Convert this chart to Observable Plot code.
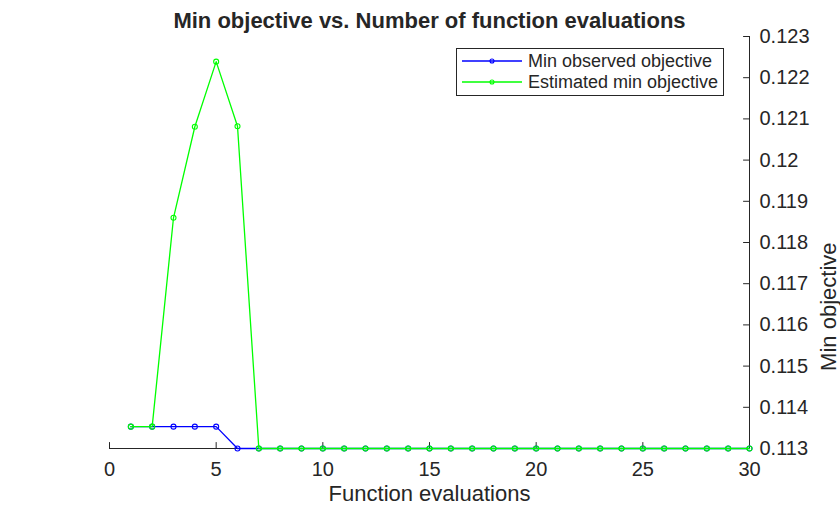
<!DOCTYPE html>
<html>
<head>
<meta charset="utf-8">
<script src="https://cdn.jsdelivr.net/npm/d3@7"></script>
<script src="https://cdn.jsdelivr.net/npm/@observablehq/plot@0.6"></script>
<style>
  html, body { margin: 0; padding: 0; background: white; }
  #chart { position: relative; width: 840px; height: 506px; }
</style>
</head>
<body>
<div id="chart"></div>
<script>
const evals = [1,2,3,4,5,6,7,8,9,10,11,12,13,14,15,16,17,18,19,20,21,22,23,24,25,26,27,28,29,30];
const minObserved = [0.11353,0.11353,0.11353,0.11353,0.11353,0.113,0.113,0.113,0.113,0.113,
  0.113,0.113,0.113,0.113,0.113,0.113,0.113,0.113,0.113,0.113,
  0.113,0.113,0.113,0.113,0.113,0.113,0.113,0.113,0.113,0.113];
const estimatedMin = [0.11353,0.11353,0.1186,0.12081,0.12239,0.12082,0.113,0.113,0.113,0.113,
  0.113,0.113,0.113,0.113,0.113,0.113,0.113,0.113,0.113,0.113,
  0.113,0.113,0.113,0.113,0.113,0.113,0.113,0.113,0.113,0.113];
const xTicks = [0,5,10,15,20,25,30];
const yTicks = [0.113,0.114,0.115,0.116,0.117,0.118,0.119,0.12,0.121,0.122,0.123];
const yTickLabels = ["0.113","0.114","0.115","0.116","0.117","0.118","0.119","0.12","0.121","0.122","0.123"];
const seriesNames = ["Min observed objective","Estimated min objective"];
const seriesColors = ["#0000ff","#00ff00"];
const titleText = "Min objective vs. Number of function evaluations";
const xLabel = "Function evaluations";
const yLabel = "Min objective";

const observedRows = evals.map((e, i) => ({x: e, y: minObserved[i]}));
const estimatedRows = evals.map((e, i) => ({x: e, y: estimatedMin[i]}));
const axisColor = "#262626";
const font = "'Liberation Sans', Arial, sans-serif";
const xMin = xTicks[0], xMax = xTicks[xTicks.length - 1];
const yMin = yTicks[0], yMax = yTicks[yTicks.length - 1];

// inward tick shape: straight segment from anchor point along the vector direction
const tickShape = {draw(context, l) { context.moveTo(0, 0); context.lineTo(0, -l); }};

const chart = Plot.plot({
  width: 840,
  height: 506,
  marginLeft: 109,
  marginRight: 91,
  marginTop: 36,
  marginBottom: 58,
  style: {fontFamily: font, color: axisColor, background: "white", overflow: "visible"},
  x: {domain: [xMin, xMax]},
  y: {domain: [yMin, yMax]},
  marks: [
    Plot.ruleY([yMin], {stroke: axisColor, strokeWidth: 1}),
    Plot.ruleX([xMax], {stroke: axisColor, strokeWidth: 1}),
    Plot.vector(xTicks, {x: d => d, y: yMin, length: 6, rotate: 0, anchor: "start", shape: tickShape, stroke: axisColor, strokeWidth: 1}),
    Plot.vector(yTicks, {x: xMax, y: d => d, length: 6, rotate: -90, anchor: "start", shape: tickShape, stroke: axisColor, strokeWidth: 1}),
    Plot.axisX({ticks: xTicks, tickSize: 0, tickPadding: 13, fontSize: 20, label: null,
      tickFormat: d => String(d), fill: axisColor}),
    Plot.axisY({anchor: "right", ticks: yTicks, tickSize: 0, tickPadding: 10, fontSize: 20, label: null,
      tickFormat: d => yTickLabels[yTicks.indexOf(d)], fill: axisColor}),
    Plot.line(observedRows, {x: "x", y: "y", stroke: seriesColors[0], strokeWidth: 1.3}),
    Plot.dot(observedRows, {x: "x", y: "y", r: 2.5, stroke: seriesColors[0], fill: "none", strokeWidth: 1.1}),
    Plot.line(estimatedRows, {x: "x", y: "y", stroke: seriesColors[1], strokeWidth: 1.3}),
    Plot.dot(estimatedRows, {x: "x", y: "y", r: 2.5, stroke: seriesColors[1], fill: "none", strokeWidth: 1.1}),
    Plot.text([titleText], {frameAnchor: "top", dy: -16, lineAnchor: "middle", fontSize: 22, fontWeight: "bold", fill: axisColor}),
    Plot.text([xLabel], {frameAnchor: "bottom", dy: 45, lineAnchor: "middle", fontSize: 22, fill: axisColor}),
    Plot.text([yLabel], {frameAnchor: "right", dx: 79, rotate: -90, lineAnchor: "middle", fontSize: 22, fill: axisColor})
  ]
});

document.getElementById("chart").appendChild(chart);

// Legend (layout element)
const svg = d3.select(chart);
const lg = svg.append("g").attr("transform", "translate(456,48)");
lg.append("rect").attr("x", 0.5).attr("y", 0.5).attr("width", 267).attr("height", 47)
  .attr("fill", "white").attr("stroke", axisColor).attr("stroke-width", 1);
seriesNames.forEach((name, i) => {
  const cy = 13 + i * 21;
  lg.append("line").attr("x1", 6).attr("x2", 66).attr("y1", cy).attr("y2", cy)
    .attr("stroke", seriesColors[i]).attr("stroke-width", 1.3);
  lg.append("circle").attr("cx", 36).attr("cy", cy).attr("r", 2)
    .attr("fill", "none").attr("stroke", seriesColors[i]).attr("stroke-width", 1.1);
  lg.append("text").attr("x", 72).attr("y", cy).attr("dy", "0.35em")
    .attr("text-anchor", "start")
    .attr("font-size", 18).attr("font-family", font).attr("fill", axisColor).text(name);
});
</script>
</body>
</html>
